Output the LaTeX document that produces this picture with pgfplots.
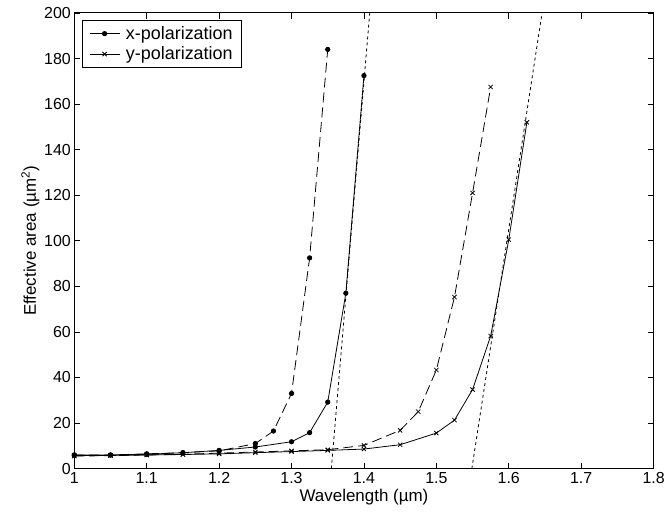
\documentclass[border=0pt]{standalone}
\usepackage{fontspec}
\setmainfont{Liberation Sans}
\usepackage{pgfplots}
\pgfplotsset{compat=1.18}

\begin{document}
\begin{tikzpicture}
\begin{axis}[
  name=ax,
  scale only axis,
  width=581bp, height=457bp,
  xmin=1, xmax=1.8, ymin=0, ymax=200,
  xtick={1,1.1,...,1.8},
  xticklabels={1,1.1,1.2,1.3,1.4,1.5,1.6,1.7,1.8},
  ytick={0,20,...,200},
  tick align=inside,
  major tick length=6bp,
  axis line style={line width=1pt},
  every tick/.style={black, line width=0.8pt},
  /pgf/number format/assume math mode=true,
  tick label style={font=\fontsize{16bp}{18bp}\selectfont},
  label style={font=\fontsize{17bp}{19bp}\selectfont},
  xlabel={Wavelength (µm)},
  ylabel={Effective area (µm\textsuperscript{2})},
  xlabel style={yshift=1bp},
  ylabel style={yshift=-2bp},
  legend style={at={(rel axis cs:0,1)}, xshift=7.5bp, yshift=-7bp,
    anchor=north west, draw=black, line width=1pt,
    font=\fontsize{18bp}{21bp}\selectfont, inner xsep=7bp, inner ysep=4bp,
    row sep=2bp, column sep=4bp, cells={anchor=west}},
  legend cell align=left,
  legend image code/.code={
    \draw[#1, solid, line width=0.8pt] (0bp,0bp) -- (30bp,0bp);
    \draw[#1, solid, line width=0.8pt] plot coordinates {(15bp,0bp)};},
]
\addlegendimage{black, mark=*, mark size=2.2pt}
\addlegendentry{x-polarization}
\addlegendimage{black, mark=x, mark size=3pt}
\addlegendentry{y-polarization}

% x-polarization, dashed
\addplot[black, line width=0.8pt, dash pattern=on 10bp off 5bp, mark=*, mark size=2.2pt,
  mark options={solid}, forget plot] coordinates {
  (1,6)(1.05,6)(1.1,6.5)(1.15,7)(1.2,7.8)(1.25,11)(1.275,16.5)(1.3,33)(1.325,92.5)(1.35,184)
};
% x-polarization, solid
\addplot[black, line width=0.8pt, mark=*, mark size=2.2pt, forget plot] coordinates {
  (1,6)(1.05,6)(1.1,6.3)(1.15,7)(1.2,8)(1.25,9.5)(1.3,11.8)(1.325,15.8)(1.35,29.2)(1.375,77)(1.4,172.5)
};
% y-polarization, dashed
\addplot[black, line width=0.8pt, dash pattern=on 10bp off 5bp, mark=x, mark size=3pt,
  mark options={solid}, forget plot] coordinates {
  (1,5.5)(1.05,5.7)(1.1,6)(1.15,6.3)(1.2,6.8)(1.25,7.3)(1.3,7.8)(1.35,8.3)(1.4,10.2)(1.45,16.8)(1.475,25)(1.5,43.3)(1.525,75.3)(1.55,121)(1.575,167.5)
};
% y-polarization, solid
\addplot[black, line width=0.8pt, mark=x, mark size=3pt, forget plot] coordinates {
  (1,5.7)(1.05,5.8)(1.1,6)(1.15,6.2)(1.2,6.5)(1.25,7)(1.3,7.5)(1.35,8)(1.4,8.6)(1.45,10.5)(1.5,15.6)(1.525,21.3)(1.55,34.7)(1.575,58.2)(1.6,100.5)(1.625,152)
};
% asymptotes, dotted
\addplot[black, line width=0.8pt, dash pattern=on 3bp off 3bp, forget plot] coordinates {
  (1.355,0)(1.408,200)
};
\addplot[black, line width=0.8pt, dash pattern=on 3bp off 3bp, forget plot] coordinates {
  (1.549,0)(1.646,200)
};
\end{axis}
\path (ax.south west) ++(-74.5bp,-55bp) coordinate (bl);
\path (ax.north east) ++(12bp,13bp) coordinate (tr);
\useasboundingbox (bl) rectangle (tr);
\end{tikzpicture}
\end{document}
